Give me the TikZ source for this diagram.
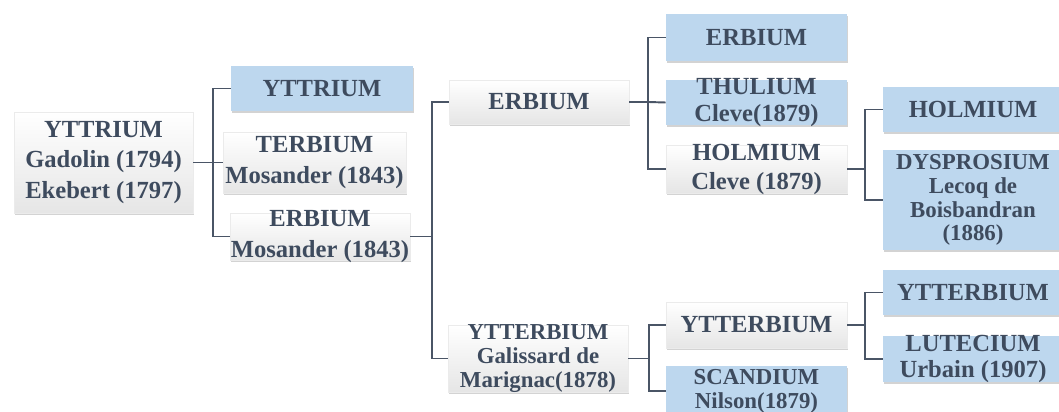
\documentclass[tikz,border=0pt]{standalone}
\usepackage{fontspec}
\setmainfont{Liberation Serif}
\usetikzlibrary{shadows}

\definecolor{boxblue}{HTML}{BDD7EE}
\definecolor{inkc}{HTML}{3E4B5E}
\definecolor{linec}{HTML}{4A5566}

\tikzset{
  elem/.style={inner sep=0pt, drop shadow={shadow xshift=0.6pt, shadow yshift=-1.4pt, opacity=0.35}},
  whitebox/.style={elem, top color=white, bottom color=black!10, draw=black!8},
  bluebox/.style={elem, fill=boxblue},
  txt/.style={text=inkc, align=center, inner sep=0pt, font=\fontsize{14}{#1}\selectfont\bfseries},
  txt/.default=17,
  tighttxt/.style={text=inkc, align=center, inner sep=0pt, font=\fontsize{13}{13.6}\selectfont\bfseries},
  branch/.style={draw=linec, line width=1.1pt}
}

\begin{document}
\begin{tikzpicture}[x=0.02cm, y=-0.02cm]
	\useasboundingbox (0,0) rectangle (1059,412);

	% Draw the root element
	\node[whitebox, minimum width=3.58cm, minimum height=2.02cm, label={[txt=17.5]center:{YTTRIUM\\Gadolin (1794)\\Ekebert (1797)}}] (root) at (103.5,162.5) {};

	% First split (Mosander)
	\node[bluebox, minimum width=3.64cm, minimum height=0.9cm, label={[txt]center:{YTTRIUM}}] (ytt) at (322,88.5) {};
	\node[whitebox, minimum width=3.66cm, minimum height=1.22cm, label={[txt=17.5]center:{TERBIUM\\Mosander (1843)}}] (ter) at (314.5,162.5) {};
	\node[whitebox, minimum width=3.6cm, minimum height=0.94cm, label={[txt=17.5]center:{ERBIUM\\Mosander (1843)}}] (erm) at (320,236.5) {};

	% Erbium earth splits
	\node[whitebox, minimum width=3.6cm, minimum height=0.88cm, label={[txt]center:{ERBIUM}}] (ermid) at (539,102) {};
	\node[whitebox, minimum width=3.6cm, minimum height=1.34cm, label={[tighttxt]center:{YTTERBIUM\\Galissard de\\Marignac(1878)}}] (ytg) at (538,358.5) {};

	% Third column
	\node[bluebox, minimum width=3.62cm, minimum height=0.94cm, label={[txt]center:{ERBIUM}}] (ertop) at (756.5,37.5) {};
	\node[bluebox, minimum width=3.62cm, minimum height=0.9cm, label={[txt=15]center:{THULIUM\\Cleve(1879)}}] (thu) at (756.5,102.5) {};
	\node[whitebox, minimum width=3.62cm, minimum height=0.96cm, label={[txt=16.5]center:{HOLMIUM\\Cleve (1879)}}] (hoc) at (756.5,169) {};
	\node[whitebox, minimum width=3.62cm, minimum height=0.92cm, label={[txt]center:{YTTERBIUM}}] (ytw) at (756.5,325) {};
	\node[bluebox, minimum width=3.62cm, minimum height=1.0cm, label={[tighttxt]center:{SCANDIUM\\Nilson(1879)}}] (sca) at (756.5,391) {};

	% Last column
	\node[bluebox, minimum width=3.6cm, minimum height=0.9cm, label={[txt]center:{HOLMIUM}}] (hob) at (973,109.5) {};
	\node[bluebox, minimum width=3.6cm, minimum height=2.0cm, label={[tighttxt]center:{DYSPROSIUM\\Lecoq de\\Boisbandran\\(1886)}}] (dys) at (973,200) {};
	\node[bluebox, minimum width=3.6cm, minimum height=0.9cm, label={[txt]center:{YTTERBIUM}}] (ytb) at (973,292.5) {};
	\node[bluebox, minimum width=3.6cm, minimum height=0.92cm, label={[txt=14.7]center:{LUTECIUM\\Urbain (1907)}}] (lut) at (973,359) {};

	% Draw the branches
	\draw[branch] (root.east) -- ++(20,0) coordinate (j1);
	\draw[branch] (ytt.west) -| (j1) |- (erm.west);
	\draw[branch] (ter.west) -- (j1);

	\draw[branch] (erm.east) -- ++(22,0) coordinate (j2);
	\draw[branch] (ermid.west) -| (j2) |- (ytg.west);

	\draw[branch] (ermid.east) -- ++(19,0) coordinate (j3);
	\draw[branch] (ertop.west) -| (j3) |- (hoc.west);
	\draw[branch] (thu.west) -- (j3);

	\draw[branch] (hoc.east) -- ++(18,0) coordinate (j4);
	\draw[branch] (hob.west) -| (j4) |- (dys.west);

	\draw[branch] (ytg.east) -- ++(21,0) coordinate (j5);
	\draw[branch] (ytw.west) -| (j5) |- (sca.west);

	\draw[branch] (ytw.east) -- ++(18,0) coordinate (j6);
	\draw[branch] (ytb.west) -| (j6) |- (lut.west);
\end{tikzpicture}
\end{document}
